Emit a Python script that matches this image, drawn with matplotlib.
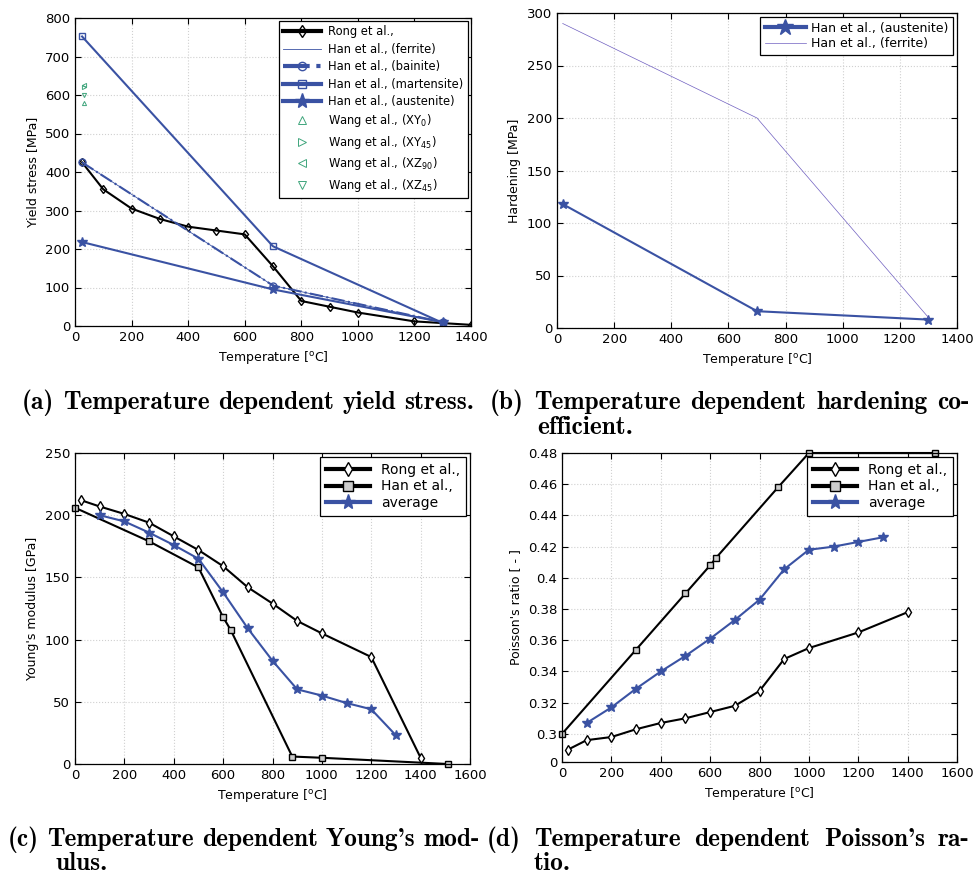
import matplotlib
matplotlib.use("Agg")
import matplotlib.pyplot as plt
import numpy as np

BLUE = '#3a52a3'
GREEN = '#3fa57c'
PURPLE = '#6f5fc0'

# (a) yield stress
rong_T = [25, 100, 200, 300, 400, 500, 600, 700, 800, 900, 1000, 1200, 1400]
rong_ys = [425, 355, 305, 278, 258, 248, 238, 155, 65, 50, 35, 12, 3]
han_T = [25, 700, 1300]
han_ferrite_ys = [425, 105, 10]
han_bainite_ys = [425, 105, 10]
han_martensite_ys = [752, 207, 8]
han_austenite_ys = [218, 95, 10]
wang_T = [32, 32, 32, 32]
wang_ys = [580, 620, 625, 600]   # XY0, XY45, XZ90, XZ45

# (b) hardening
hard_T = [20, 700, 1300]
hard_austenite = [118, 16, 8]
hard_ferrite = [290, 200, 10]

# (c) Young's modulus
E_rong_T = [25, 100, 200, 300, 400, 500, 600, 700, 800, 900, 1000, 1200, 1400]
E_rong = [212, 207, 201, 194, 183, 172, 159, 142, 129, 115, 105, 86, 5]
E_han_T = [0, 300, 500, 600, 630, 880, 1000, 1510]
E_han = [206, 179, 158, 118, 108, 6, 5, 0]
E_avg_T = [100, 200, 300, 400, 500, 600, 700, 800, 900, 1000, 1100, 1200, 1300]
E_avg = [200, 195, 186, 176, 165, 138, 109, 83, 60, 55, 49, 44, 23]

# (d) Poisson's ratio
nu_rong_T = [25, 100, 200, 300, 400, 500, 600, 700, 800, 900, 1000, 1200, 1400]
nu_rong = [0.290, 0.296, 0.298, 0.303, 0.307, 0.310, 0.314, 0.318, 0.3275, 0.348, 0.355, 0.365, 0.378]
nu_han_T = [0, 300, 500, 600, 625, 875, 1000, 1510]
nu_han = [0.300, 0.354, 0.390, 0.408, 0.413, 0.458, 0.48, 0.48]
nu_avg_T = [100, 200, 300, 400, 500, 600, 700, 800, 900, 1000, 1100, 1200, 1300]
nu_avg = [0.307, 0.317, 0.329, 0.340, 0.350, 0.361, 0.373, 0.386, 0.4055, 0.418, 0.420, 0.423, 0.426]

plt.rcParams['font.family'] = 'DejaVu Sans'
plt.rcParams['font.size'] = 9.5

W, H = 975, 874
fig = plt.figure(figsize=(W/100, H/100), dpi=100)

def axes_px(l, t, r, b):
    return fig.add_axes([l/W, 1-b/H, (r-l)/W, (b-t)/H])

def style(ax):
    ax.grid(True, color='#d0d0d0', linestyle=':', linewidth=0.8)
    ax.tick_params(direction='in', top=True, right=True, length=4, labelsize=9.5, width=0.8)
    ax.set_xlabel('Temperature [$^{\\mathrm{o}}$C]', fontsize=9)
    for s in ax.spines.values():
        s.set_linewidth(0.9)

def fat_legend(leg, lw=3):
    for ln in leg.get_lines():
        if ln.get_linewidth() > 1:
            ln.set_linewidth(lw)

# ---- (a)
ax = axes_px(75, 18, 471, 326)
ax.plot(rong_T, rong_ys, '-d', color='k', lw=1.5, ms=4.5, mfc='none', mew=1.0, label='Rong et al.,')
ax.plot(han_T, han_ferrite_ys, '-', color=BLUE, lw=0.6, label='Han et al., (ferrite)')
ax.plot(han_T, han_bainite_ys, '-.o', color=BLUE, lw=1.5, ms=5, mfc='none', mew=1.0, label='Han et al., (bainite)')
ax.plot(han_T, han_martensite_ys, '-s', color=BLUE, lw=1.5, ms=4, mfc='none', mew=1.0, label='Han et al., (martensite)')
ax.plot(han_T, han_austenite_ys, '-*', color=BLUE, lw=1.5, ms=7, label='Han et al., (austenite)')
wang_m = ['^', '>', '<', 'v']
wang_lab = ['Wang et al., (XY$_{0}$)', 'Wang et al., (XY$_{45}$)',
            'Wang et al., (XZ$_{90}$)', 'Wang et al., (XZ$_{45}$)']
for t, v, m, lab in zip(wang_T, wang_ys, wang_m, wang_lab):
    ax.plot([t], [v], m, color=GREEN, ms=3, mfc='none', mew=0.7, label=lab)
ax.set_xlim(0, 1400)
ax.set_ylim(0, 800)
ax.set_xticks(range(0, 1401, 200))
ax.set_yticks(range(0, 801, 100))
ax.set_ylabel('Yield stress [MPa]', fontsize=9)
style(ax)
leg = ax.legend(loc='upper right', fontsize=8.3, fancybox=False, edgecolor='k',
                handlelength=3.3, handletextpad=0.6, borderaxespad=0.3, labelspacing=0.38,
                borderpad=0.35, framealpha=1)
leg.get_frame().set_linewidth(0.9)
for ln in leg.get_lines():
    if ln.get_marker() in wang_m:
        ln.set_markersize(6)
    elif ln.get_marker() == '*':
        ln.set_markersize(11)
    elif ln.get_marker() in ('d', 's', 'o'):
        ln.set_markersize(6)
fat_legend(leg)

# ---- (b)
ax = axes_px(557, 13, 957, 328)
ax.plot(hard_T, hard_austenite, '-*', color=BLUE, lw=1.5, ms=7, label='Han et al., (austenite)')
ax.plot(hard_T, hard_ferrite, '-', color=PURPLE, lw=0.5, label='Han et al., (ferrite)')
ax.set_xlim(0, 1400)
ax.set_ylim(0, 300)
ax.set_xticks(range(0, 1401, 200))
ax.set_yticks(range(0, 301, 50))
ax.set_ylabel('Hardening [MPa]', fontsize=9)
style(ax)
leg = ax.legend(loc='upper right', fontsize=9, fancybox=False, edgecolor='k',
                handlelength=3.3, handletextpad=0.4, borderaxespad=0.3, labelspacing=0.2,
                framealpha=1)
leg.get_frame().set_linewidth(0.9)
fat_legend(leg)
for ln in leg.get_lines():
    if ln.get_marker() == '*':
        ln.set_markersize(12)

# ---- (c)
ax = axes_px(75, 453, 470, 764)
ax.plot(E_rong_T, E_rong, '-d', color='k', lw=1.5, ms=5, mfc='white', mew=1.0, label='Rong et al.,', clip_on=False)
ax.plot(E_han_T, E_han, '-s', color='k', lw=1.5, ms=4.5, mfc='#cccccc', mew=1.0, label='Han et al.,', clip_on=False)
ax.plot(E_avg_T, E_avg, '-*', color=BLUE, lw=1.5, ms=7, label='average')
ax.set_xlim(0, 1600)
ax.set_ylim(0, 250)
ax.set_xticks(range(0, 1601, 200))
ax.set_yticks(range(0, 251, 50))
ax.set_ylabel("Young's modulus [GPa]", fontsize=9)
style(ax)
leg = ax.legend(loc='upper right', fontsize=10, fancybox=False, edgecolor='k',
                handlelength=3.2, borderaxespad=0.3, labelspacing=0.2, framealpha=1)
leg.get_frame().set_linewidth(0.9)
fat_legend(leg)
for ln in leg.get_lines():
    ln.set_markersize(7 if ln.get_marker() != '*' else 11)

# ---- (d)
ax = axes_px(562, 453, 957, 762)
ax.plot(nu_rong_T, nu_rong, '-d', color='k', lw=1.5, ms=5, mfc='white', mew=1.0, label='Rong et al.,', clip_on=False)
ax.plot(nu_han_T, nu_han, '-s', color='k', lw=1.5, ms=4.5, mfc='#cccccc', mew=1.0, label='Han et al.,', clip_on=False)
ax.plot(nu_avg_T, nu_avg, '-*', color=BLUE, lw=1.5, ms=7, label='average')
ax.set_xlim(0, 1600)
ax.set_ylim(0.282, 0.48)
ax.set_xticks(range(0, 1601, 200))
yt = [0.282] + [round(0.30 + 0.02*i, 2) for i in range(10)]
ax.set_yticks(yt)
ax.set_yticklabels(['0', '0.3', '0.32', '0.34', '0.36', '0.38', '0.4', '0.42', '0.44', '0.46', '0.48'])
ax.set_ylabel("Poisson's ratio [ - ]", fontsize=9)
style(ax)
leg = ax.legend(loc='upper right', fontsize=10, fancybox=False, edgecolor='k',
                handlelength=3.2, borderaxespad=0.3, labelspacing=0.2, framealpha=1)
leg.get_frame().set_linewidth(0.9)
fat_legend(leg)
for ln in leg.get_lines():
    ln.set_markersize(7 if ln.get_marker() != '*' else 11)

# ---- captions (justified, LaTeX-like)
fig.canvas.draw()
rend = fig.canvas.get_renderer()
CAP = dict(fontfamily='cmb10', fontsize=18.3, va='baseline')

def text_w(s):
    t = fig.text(0, 0, s, **CAP)
    w = t.get_window_extent(rend).width
    t.remove()
    return w

SPACE = text_w('a b') - text_w('ab')

def cap_line(text, x0, x1, y, justify=True):
    words = text.split(' ')
    widths = [text_w(w) for w in words]
    if justify and len(words) > 1:
        gap = (x1 - x0 - sum(widths)) / (len(words) - 1)
    else:
        gap = SPACE
    x = x0
    for w, wd in zip(words, widths):
        fig.text(x/W, 1-y/H, w, **CAP)
        x += wd + gap

cap_line('(a) Temperature dependent yield stress.', 22, 480, 409, justify=False)
cap_line('(b) Temperature dependent hardening co-', 490, 970, 409)
cap_line('efficient.', 537, 970, 434, justify=False)
cap_line("(c) Temperature dependent Young's mod-", 8, 480, 846)
cap_line('ulus.', 55, 480, 870, justify=False)
cap_line("(d) Temperature dependent Poisson's ra-", 487, 970, 846)
cap_line('tio.', 533, 970, 870, justify=False)

fig.savefig('out.png', dpi=100)
